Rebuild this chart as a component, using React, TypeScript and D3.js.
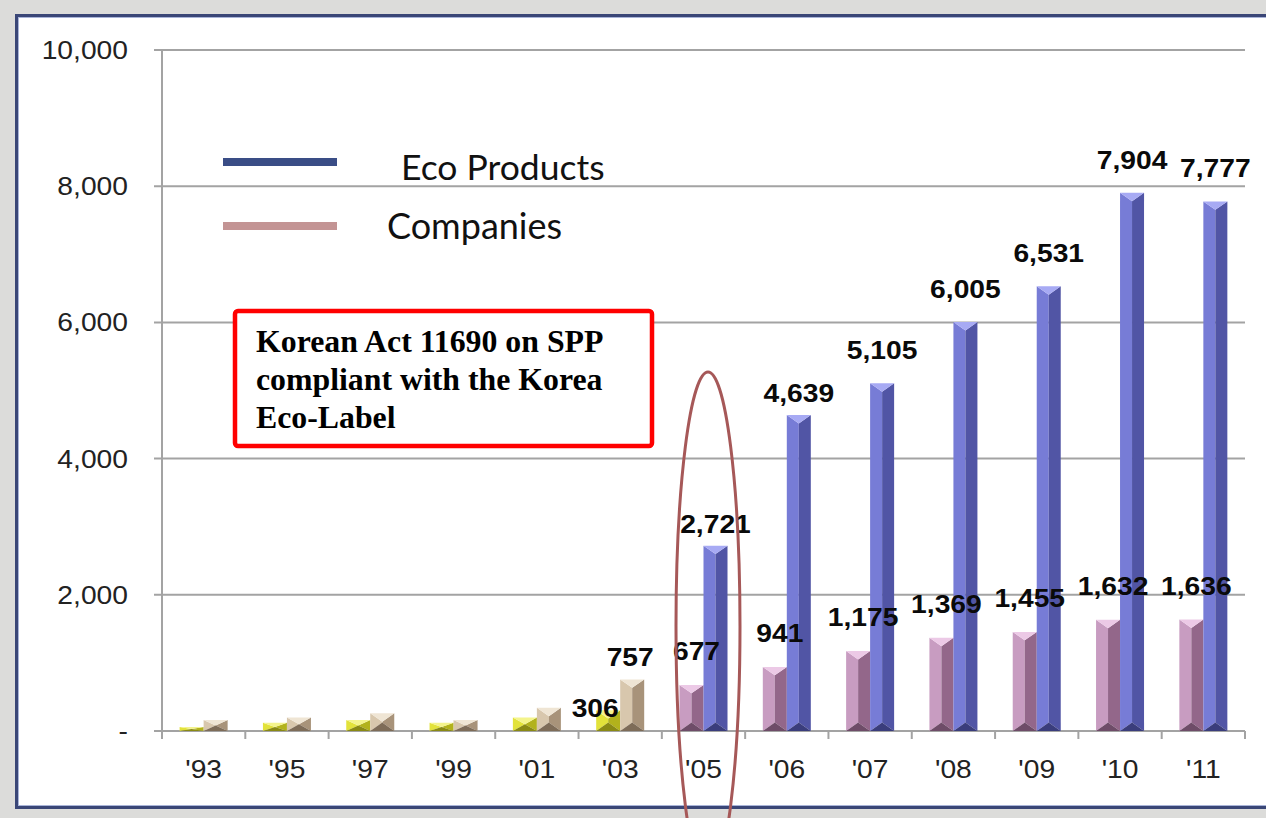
import * as d3 from "d3";

// chart values
const years = ["'93", "'95", "'97", "'99", "'01", "'03", "'05", "'06", "'07", "'08", "'09", "'10", "'11"];
const companies = [60, 120, 160, 120, 200, 306, 677, 941, 1175, 1369, 1455, 1632, 1636];
const products = [160, 200, 260, 160, 340, 757, 2721, 4639, 5105, 6005, 6531, 7904, 7777];
const labelled = [false, false, false, false, false, true, true, true, true, true, true, true, true];
const yTicks = [0, 2000, 4000, 6000, 8000, 10000];
const legendItems = ["Eco Products", "Companies"];
const noteLines = ["Korean Act 11690 on SPP", "compliant with the Korea", "Eco-Label"];

const W = 1266;
const H = 818;

const x = d3.scaleBand<string>().domain(years).range([162, 1245]);
const inner = d3.scaleBand<string>().domain(["c", "p"]).range([x.bandwidth() / 2 - 24, x.bandwidth() / 2 + 24]);
const y = d3.scaleLinear().domain([0, 10000]).range([731, 50]);
const fmt = d3.format(",");

const pal = {
  yellow: { top: "#f4f48c", left: "#e2e23a", right: "#b2b21c", bottom: "#8a8a14" },
  tan: { top: "#efe5d4", left: "#d8c7ad", right: "#a8937a", bottom: "#7e6c58" },
  pink: { top: "#ecc9e6", left: "#c89cc1", right: "#93678a", bottom: "#6e4c68" },
  blue: { top: "#a7aaf4", left: "#777cd6", right: "#5155a5", bottom: "#3a3d7c" },
};

type Pal = typeof pal.blue;

function Bevel({ x0, v, w, p }: { x0: number; v: number; w: number; p: Pal }) {
  const y0 = y(v);
  const y1 = y(0);
  const x1 = x0 + w;
  const xc = x0 + w / 2;
  const d = Math.min(w * 0.35, (y1 - y0) / 2);
  const pts = (a: number[][]) => a.map((q) => q.join(",")).join(" ");
  return (
    <g>
      <polygon points={pts([[x0, y0], [xc, y0 + d], [xc, y1 - d], [x0, y1]])} fill={p.left} />
      <polygon points={pts([[x1, y0], [xc, y0 + d], [xc, y1 - d], [x1, y1]])} fill={p.right} />
      <polygon points={pts([[x0, y0], [x1, y0], [xc, y0 + d]])} fill={p.top} />
      <polygon points={pts([[x0, y1], [x1, y1], [xc, y1 - d]])} fill={p.bottom} />
    </g>
  );
}

// sans text, stretched a little like the source picture
function T({ tx, ty, children, bold = false, size = 25, anchor = "middle" }: any) {
  return (
    <text
      transform={`translate(${tx},${ty}) scale(1.13,1)`}
      textAnchor={anchor}
      fontFamily="'Liberation Sans', Arial, sans-serif"
      fontWeight={bold ? "bold" : "normal"}
      fontSize={size}
      fill={bold ? "#0a0a0a" : "#222"}
    >
      {children}
    </text>
  );
}

export default function App() {
  const bw = 24;
  return (
    <div style={{ position: "fixed", left: 0, top: 0 }}>
      <svg width={W} height={H} style={{ display: "block" }}>
        <rect width={W} height={H} fill="#dcdcda" />
        <rect x={16.5} y={15.5} width={W + 20} height={792} fill="#fff" stroke="#3a4676" strokeWidth={3} />
        <rect x={18.5} y={17.5} width={W + 20} height={788} fill="none" stroke="#a9b4d8" strokeWidth={1} />

        {/* grid */}
        {yTicks.map((t) => (
          <line key={t} x1={154} x2={1245} y1={y(t)} y2={y(t)} stroke="#a3a3a3" strokeWidth={2} />
        ))}
        <line x1={162} x2={162} y1={y(10000)} y2={y(0) + 8} stroke="#a3a3a3" strokeWidth={2} />
        {years.concat("end").map((yr, i) => {
          const px = i < years.length ? (x(yr) as number) : 1245;
          return <line key={yr} x1={px} x2={px} y1={y(0)} y2={y(0) + 8} stroke="#a3a3a3" strokeWidth={2} />;
        })}

        {yTicks.map((t) => (
          <T key={t} tx={128} ty={y(t) + 9} anchor="end">
            {t === 0 ? "-" : fmt(t)}
          </T>
        ))}
        {years.map((yr) => (
          <T key={yr} tx={(x(yr) as number) + x.bandwidth() / 2} ty={778}>
            {yr}
          </T>
        ))}

        {/* bars */}
        {years.map((yr, i) => {
          const early = i < 6;
          const bx = x(yr) as number;
          return (
            <g key={yr}>
              <Bevel x0={bx + (inner("c") as number)} v={companies[i]} w={bw} p={early ? pal.yellow : pal.pink} />
              <Bevel x0={bx + (inner("p") as number)} v={products[i]} w={bw} p={early ? pal.tan : pal.blue} />
            </g>
          );
        })}

        {/* value labels */}
        {years.map((yr, i) => {
          if (!labelled[i]) return null;
          const bx = x(yr) as number;
          const cx = bx + (inner("c") as number) + bw / 2;
          const px = bx + (inner("p") as number) + bw / 2;
          const cy = i === 5 ? y(companies[i]) + 7 : y(companies[i]) - 25;
          const py = i <= 7 ? y(products[i]) - 13 : y(products[i]) - 24;
          return (
            <g key={yr}>
              <T tx={i === 5 ? cx - 13 : cx + 5} ty={cy} bold size={25}>
                {fmt(companies[i])}
              </T>
              <T tx={i === 5 ? px - 2 : px} ty={py} bold size={25}>
                {fmt(products[i])}
              </T>
            </g>
          );
        })}

        {/* legend */}
        {legendItems.map((name, i) => (
          <g key={name}>
            <line x1={223} x2={337} y1={162 + i * 64} y2={162 + i * 64} stroke={i === 0 ? "#3a4d86" : "#c39494"} strokeWidth={8} />
            <text x={i === 0 ? 401 : 387} y={180 + i * 59} fontFamily="Lato, 'Open Sans', sans-serif" fontSize={i === 0 ? 35.5 : 36} fill="#111">
              {name}
            </text>
          </g>
        ))}

        {/* note box */}
        <rect x={235} y={311} width={417} height={135} rx={3} fill="#fff" stroke="#ff0000" strokeWidth={4.5} />
        {noteLines.map((s, i) => (
          <text key={s} x={256} y={352 + i * 38} fontFamily="'Liberation Serif', 'Times New Roman', serif" fontWeight="bold" fontSize={31.8} fill="#000">
            {s}
          </text>
        ))}

        <ellipse cx={708} cy={626} rx={32} ry={254} fill="none" stroke="#a65858" strokeWidth={3} />
      </svg>
    </div>
  );
}
